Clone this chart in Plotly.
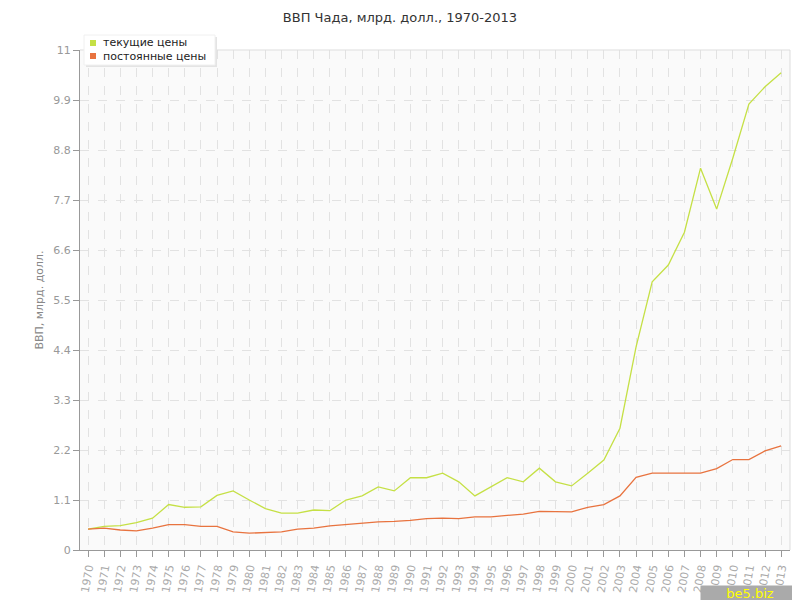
import plotly.graph_objects as go

years = list(range(1970, 2014))
current_prices = [0.46, 0.52, 0.535, 0.60, 0.70, 1.00, 0.94, 0.95, 1.20, 1.30,
                  1.10, 0.91, 0.81, 0.81, 0.88, 0.865, 1.10, 1.19, 1.39, 1.30,
                  1.59, 1.59, 1.69, 1.50, 1.19, 1.39, 1.59, 1.50, 1.80, 1.50,
                  1.41, 1.69, 1.98, 2.68, 4.47, 5.90, 6.27, 6.99, 8.40, 7.50,
                  8.62, 9.81, 10.19, 10.50]
constant_prices = [0.46, 0.48, 0.44, 0.42, 0.48, 0.56, 0.56, 0.52, 0.52, 0.40,
                   0.37, 0.38, 0.40, 0.46, 0.48, 0.53, 0.56, 0.59, 0.62, 0.63,
                   0.65, 0.69, 0.70, 0.69, 0.73, 0.73, 0.76, 0.79, 0.85, 0.84,
                   0.84, 0.94, 1.00, 1.19, 1.60, 1.69, 1.69, 1.69, 1.69, 1.79,
                   1.99, 1.99, 2.18, 2.29]
y_ticks = [0, 1.1, 2.2, 3.3, 4.4, 5.5, 6.6, 7.7, 8.8, 9.9, 11]
y_tick_labels = ["0", "1.1", "2.2", "3.3", "4.4", "5.5", "6.6", "7.7", "8.8", "9.9", "11"]
series_names = ["текущие цены", "постоянные цены"]
colors = ["#c5e045", "#e8733f"]

# the page body adds an 8px offset; figure is sized so the plot lands where the reference has it
OFF = 8
W, H = 800 - OFF, 600 - OFF
L, T = 80 - OFF, 50 - OFF
R, B = W - (790 - OFF), H - (550 - OFF)
PW, PH = W - L - R, H - T - B


def px(x):
    return (x - OFF - L) / PW


def py(y):
    return (H - B - (y - OFF)) / PH


fig = go.Figure()
for name, vals, c in zip(series_names, [current_prices, constant_prices], colors):
    fig.add_trace(go.Scatter(x=years, y=vals, mode="lines", line=dict(color=c, width=1.3),
                             showlegend=False, name=name))

font_family = "DejaVu Sans"

shapes = [
    dict(type="line", xref="paper", yref="paper", x0=0, x1=1, y0=1, y1=1,
         line=dict(color="#dddddd", width=1)),
    dict(type="line", xref="paper", yref="paper", x0=1, x1=1, y0=0, y1=1,
         line=dict(color="#dddddd", width=1)),
    # legend shadow + box
    dict(type="rect", xref="paper", yref="paper", x0=px(86), x1=px(217), y0=py(67), y1=py(37),
         fillcolor="#e4e4e4", line=dict(width=0)),
    dict(type="rect", xref="paper", yref="paper", x0=px(84), x1=px(215), y0=py(65), y1=py(35),
         fillcolor="white", line=dict(color="#f0f0f0", width=1)),
]
annotations = []
for i, (name, c) in enumerate(zip(series_names, colors)):
    cy = 43 + 13 * i
    shapes.append(dict(type="rect", xref="paper", yref="paper", x0=px(90), x1=px(96),
                       y0=py(cy + 3), y1=py(cy - 3), fillcolor=c, line=dict(width=0)))
    annotations.append(dict(text=name, xref="paper", yref="paper", x=px(101), y=py(cy),
                            xanchor="left", yanchor="middle", showarrow=False,
                            font=dict(family=font_family, size=11, color="#222222")))
annotations.append(dict(text="be5.biz", xref="paper", yref="paper", x=px(700), y=py(585),
                        xanchor="left", yanchor="top", showarrow=False,
                        font=dict(family=font_family, size=13, color="#ffff00"),
                        bgcolor="#aaaaaa", width=98, height=14, borderpad=0, align="center"))

fig.update_layout(
    width=W, height=H,
    margin=dict(l=L, r=R, t=T, b=B, autoexpand=False),
    paper_bgcolor="white",
    plot_bgcolor="#fafafa",
    font=dict(family=font_family, size=11, color="#999999"),
    title=dict(text="ВВП Чада, млрд. долл., 1970-2013", x=(400 - OFF) / W, xanchor="center",
               yref="container", y=1 - (17 - OFF) / H, yanchor="middle",
               font=dict(family=font_family, size=13, color="#333333")),
    showlegend=False,
    xaxis=dict(range=[1969.5, 2013.55], tickmode="array", tickvals=years,
               ticktext=[str(y) for y in years], tickangle=-80, automargin=False,
               showgrid=True, gridcolor="#e2e2e2", griddash="dash", gridwidth=1,
               showline=True, linecolor="#999999", linewidth=1,
               ticks="outside", ticklen=6, tickcolor="#999999",
               tickfont=dict(size=11, color="#aaaaaa"), zeroline=False),
    yaxis=dict(range=[0, 11], tickmode="array", tickvals=y_ticks, ticktext=y_tick_labels,
               automargin=False,
               showgrid=True, gridcolor="#e2e2e2", griddash="dash", gridwidth=1,
               showline=True, linecolor="#999999", linewidth=1,
               ticks="outside", ticklen=6, tickcolor="#999999",
               tickfont=dict(size=11, color="#999999"), zeroline=False,
               title=dict(text="ВВП, млрд. долл.", font=dict(size=11, color="#888888"),
                          standoff=7)),
    shapes=shapes,
    annotations=annotations,
)
fig.write_html("out.html")
